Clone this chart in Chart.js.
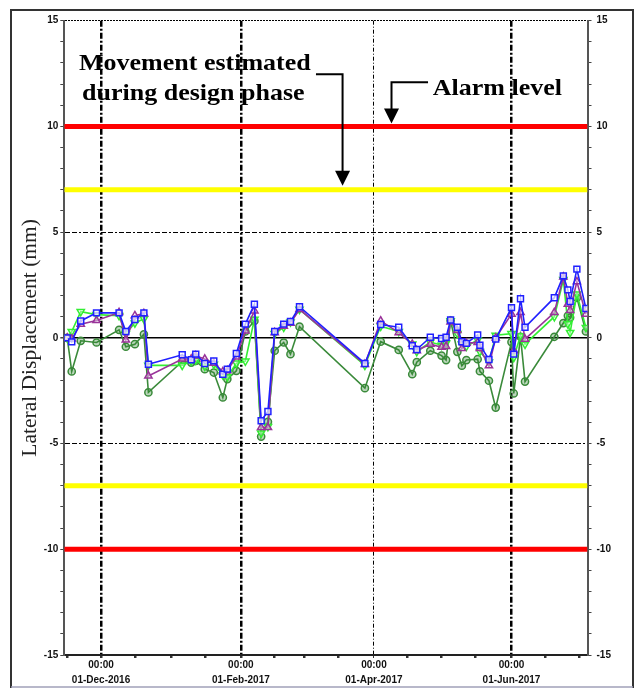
<!DOCTYPE html>
<html>
<head>
<meta charset="utf-8">
<title>Lateral Displacement</title>
<script src="https://cdn.jsdelivr.net/npm/chart.js@4.4.1/dist/chart.umd.min.js"></script>
<style>
  html, body { margin: 0; padding: 0; background: #fff; }
  #wrap { position: relative; width: 640px; height: 688px; }
</style>
</head>
<body>
<div id="wrap"><canvas id="dispChart" width="640" height="688"></canvas></div>
<script>
// Reading dates (one reading per date for every depth)
const readingDates = [
    '2016-11-16', '2016-11-18', '2016-11-22', '2016-11-29', '2016-12-09', '2016-12-12',
    '2016-12-16', '2016-12-20', '2016-12-22', '2017-01-06', '2017-01-10', '2017-01-12',
    '2017-01-16', '2017-01-20', '2017-01-24', '2017-01-26', '2017-01-30', '2017-02-03',
    '2017-02-07', '2017-02-10', '2017-02-13', '2017-02-16', '2017-02-20', '2017-02-23',
    '2017-02-27', '2017-03-28', '2017-04-04', '2017-04-12', '2017-04-18', '2017-04-20',
    '2017-04-26', '2017-05-01', '2017-05-03', '2017-05-05', '2017-05-08', '2017-05-10',
    '2017-05-12', '2017-05-17', '2017-05-18', '2017-05-22', '2017-05-25', '2017-06-01',
    '2017-06-02', '2017-06-05', '2017-06-07', '2017-06-20', '2017-06-24', '2017-06-26',
    '2017-06-27', '2017-06-30', '2017-07-04'
];

// Displacement (mm), blue squares
const blueSquare = [
    0, -0.19, 0.8, 1.18, 1.18, 0.3,
    0.87, 1.18, -1.25, -0.8, -1.04, -0.77,
    -1.21, -1.09, -1.72, -1.48, -0.74, 0.65,
    1.59, -3.92, -3.48, 0.3, 0.65, 0.77,
    1.47, -1.21, 0.63, 0.5, -0.37, -0.55,
    0.03, -0.03, 0.03, 0.84, 0.5, -0.18,
    -0.26, 0.14, -0.35, -1.02, -0.06, 1.43,
    -0.77, 1.85, 0.5, 1.9, 2.93, 2.27,
    1.72, 3.25, 1.39
];

// Displacement (mm), purple triangles
const purpleTriangle = [
    0, -0.05, 0.65, 0.82, 1.2, -0.1,
    1.05, 1.15, -1.8, -1.0, -1.0, -0.85,
    -1.0, -1.2, -1.6, -1.55, -0.9, 0.33,
    1.28, -4.24, -4.24, 0.25, 0.55, 0.7,
    1.35, -1.25, 0.8, 0.25, -0.3, -0.6,
    -0.3, -0.44, -0.4, 0.76, 0.35, -0.5,
    -0.25, -0.22, -0.5, -1.32, 0, 1.12,
    -0.6, 1.2, -0.06, 1.2, 2.88, 1.59,
    1.3, 2.66, 1.12
];

// Displacement (mm), light green inverted triangles
const limeTriangle = [
    0, 0.3, 1.24, 1.1, 1.05, 0.2,
    0.7, 0.9, -1.3, -1.3, -1.1, -1.05,
    -1.35, -1.25, -1.75, -1.85, -1.2, -1.1,
    0.88, -4.5, -4.2, 0.2, 0.5, 0.75,
    1.35, -1.3, 0.55, 0.3, -0.3, -0.65,
    -0.2, -0.35, -0.25, 0.8, 0.2, -0.3,
    -0.4, -0.1, -0.65, -1.15, 0.12, 0.2,
    -0.93, 0.1, -0.3, 1.0, 2.75, 0.66,
    0.25, 2.07, 0.49
];

// Displacement (mm), dark green circles
const greenCircle = [
    0, -1.59, -0.14, -0.22, 0.38, -0.42,
    -0.3, 0.17, -2.58, -1.12, -1.17, -1.09,
    -1.48, -1.64, -2.82, -1.95, -1.56, 0.3,
    0.8, -4.67, -3.97, -0.61, -0.22, -0.77,
    0.53, -2.38, -0.18, -0.57, -1.72, -1.15,
    -0.61, -0.84, -1.05, 0.82, -0.66, -1.32,
    -1.05, -1.01, -1.58, -2.03, -3.3, -0.2,
    -2.63, 0.05, -2.07, 0.05, 0.7, 1.04,
    0.96, 1.9, 0.3
];

// Threshold levels (mm)
const alarmLevel = 10;
const designLevel = 7;

// Axis labels
const majorTickDates = ['2016-12-01', '2017-02-01', '2017-04-01', '2017-06-01'];
const majorTickLabels = [
    ['00:00', '01-Dec-2016'],
    ['00:00', '01-Feb-2017'],
    ['00:00', '01-Apr-2017'],
    ['00:00', '01-Jun-2017']
];
const axisStart = '2016-11-14T17:00:00Z';
const axisEnd = '2017-07-04T17:00:00Z';
const yMin = -15, yMax = 15;

// Days since 01-Dec-2016
const origin = Date.parse('2016-12-01T00:00:00Z');
function toDay(s) {
    const full = s.length === 10 ? s + 'T00:00:00Z' : s;
    return (Date.parse(full) - origin) / 86400000;
}

const xMin = toDay(axisStart);
const xMax = toDay(axisEnd);
const majorDays = majorTickDates.map(toDay);
const thinDay = toDay('2017-04-01');

// minor ticks on the 1st and 16th of each month
const tickDays = [];
for (let m = 10; m <= 18; m++) {
    [1, 16].forEach(d => {
        const v = (Date.UTC(2016, m, d) - origin) / 86400000;
        if (v >= xMin && v <= xMax) tickDays.push(v);
    });
}

function toPoints(values) {
    return readingDates.map((d, i) => ({ x: toDay(d), y: values[i] }));
}

function levelLine(value, color) {
    return {
        label: 'level ' + value,
        data: [{ x: xMin, y: value }, { x: xMax, y: value }],
        borderColor: color,
        borderWidth: 5,
        pointRadius: 0,
        order: 10
    };
}

function series(label, values, color, fill, style, extra) {
    return Object.assign({
        label: label,
        data: toPoints(values),
        borderColor: color,
        borderWidth: 1.6,
        pointStyle: style,
        pointRadius: 4.2,
        pointBorderWidth: 1.5,
        pointBorderColor: color,
        pointBackgroundColor: fill,
        tension: 0
    }, extra);
}

const tickFont = { family: 'Liberation Sans', size: 10, weight: 'bold', lineHeight: 1.5 };

function drawArrow(ctx, pts) {
    ctx.save();
    ctx.strokeStyle = '#000';
    ctx.fillStyle = '#000';
    ctx.lineWidth = 2;
    ctx.beginPath();
    ctx.moveTo(pts[0].x, pts[0].y);
    for (let i = 1; i < pts.length; i++) ctx.lineTo(pts[i].x, pts[i].y - (i === pts.length - 1 ? 10 : 0));
    ctx.stroke();
    const tip = pts[pts.length - 1];
    ctx.beginPath();
    ctx.moveTo(tip.x, tip.y);
    ctx.lineTo(tip.x - 7.5, tip.y - 15);
    ctx.lineTo(tip.x + 7.5, tip.y - 15);
    ctx.closePath();
    ctx.fill();
    ctx.restore();
}

function drawLabel(ctx, text, x, y, sx) {
    ctx.save();
    ctx.font = 'bold 23px "Liberation Serif"';
    ctx.fillStyle = '#000';
    ctx.textBaseline = 'alphabetic';
    ctx.translate(x, y);
    ctx.scale(sx, 1);
    ctx.fillText(text, 0, 0);
    ctx.restore();
}

const decorPlugin = {
    id: 'decor',
    beforeDraw(chart) {
        const ctx = chart.ctx;
        ctx.save();
        ctx.strokeStyle = '#333';
        ctx.lineWidth = 2;
        ctx.beginPath();
        ctx.moveTo(11, 688);
        ctx.lineTo(11, 10);
        ctx.lineTo(633, 10);
        ctx.lineTo(633, 688);
        ctx.stroke();
        ctx.strokeStyle = '#a0a0b8';
        ctx.lineWidth = 1.5;
        ctx.beginPath();
        ctx.moveTo(11, 687);
        ctx.lineTo(633, 687);
        ctx.stroke();
        ctx.restore();
    },
    afterDatasetsDraw(chart) {
        const ctx = chart.ctx;
        const x = chart.scales.x, y = chart.scales.y;
        // design phase bracket
        drawArrow(ctx, [
            { x: x.getPixelForValue(95.3), y: y.getPixelForValue(12.47) },
            { x: x.getPixelForValue(107.1), y: y.getPixelForValue(12.47) },
            { x: x.getPixelForValue(107.1), y: y.getPixelForValue(designLevel) - 4 }
        ]);
        // alarm bracket
        drawArrow(ctx, [
            { x: x.getPixelForValue(145.0), y: y.getPixelForValue(12.09) },
            { x: x.getPixelForValue(128.8), y: y.getPixelForValue(12.09) },
            { x: x.getPixelForValue(128.8), y: y.getPixelForValue(alarmLevel) - 3 }
        ]);
        drawLabel(ctx, 'Movement estimated', x.getPixelForValue(-9.75), y.getPixelForValue(12.67), 1.13);
        drawLabel(ctx, 'during design phase', x.getPixelForValue(-8.4), y.getPixelForValue(11.25), 1.13);
        drawLabel(ctx, 'Alarm level', x.getPixelForValue(147.1), y.getPixelForValue(11.49), 1.13);
    }
};

const ctx = document.getElementById('dispChart').getContext('2d');
const dispChart = new Chart(ctx, {
    type: 'line',
    data: {
        datasets: [
            series('Blue', blueSquare, '#2020ff', 'rgba(255,255,255,0.7)', 'rect'),
            series('Purple', purpleTriangle, '#993399', 'rgba(255,255,255,0.4)', 'triangle'),
            series('Lime', limeTriangle, '#33ee33', 'rgba(255,255,255,0.4)', 'triangle', { pointRotation: 180 }),
            series('Green', greenCircle, '#3a8a3a', 'rgba(58,138,58,0.35)', 'circle', { pointRadius: 3.6 }),
            levelLine(alarmLevel, '#ff0000'),
            levelLine(designLevel, '#ffff00'),
            levelLine(-designLevel, '#ffff00'),
            levelLine(-alarmLevel, '#ff0000')
        ]
    },
    options: {
        responsive: false,
        animation: false,
        devicePixelRatio: 1,
        layout: { padding: { left: 12, right: 0, top: 20.7, bottom: 0 } },
        plugins: {
            legend: { display: false },
            tooltip: { enabled: false }
        },
        scales: {
            x: {
                type: 'linear',
                min: xMin,
                max: xMax,
                afterBuildTicks: (scale) => {
                    scale.ticks = tickDays.map(v => ({ value: v }));
                },
                afterFit: (scale) => { scale.height = 33; },
                ticks: {
                    autoSkip: false,
                    maxRotation: 0,
                    padding: 0,
                    color: '#111',
                    font: tickFont,
                    callback: (v) => {
                        const i = majorDays.indexOf(v);
                        return i >= 0 ? majorTickLabels[i] : '';
                    }
                },
                grid: {
                    color: (c) => majorDays.includes(c.tick.value) ? '#000' : 'rgba(0,0,0,0)',
                    lineWidth: (c) => c.tick.value === thinDay ? 1 : 2.5,
                    tickColor: '#333',
                    tickLength: 3
                },
                border: {
                    color: '#222',
                    width: 2,
                    dash: (c) => c.tick ? (c.tick.value === thinDay ? [4, 2, 1, 2] : [6, 2, 2, 2]) : []
                }
            },
            y: {
                type: 'linear',
                position: 'left',
                min: yMin,
                max: yMax,
                afterFit: (scale) => { scale.width = 52.3; },
                title: {
                    display: true,
                    text: 'Lateral Displacement (mm)',
                    color: '#222',
                    font: { family: 'Liberation Serif', size: 21.5 },
                    padding: { top: 5, bottom: 0 }
                },
                ticks: {
                    stepSize: 1,
                    autoSkip: false,
                    padding: 2,
                    color: '#111',
                    font: tickFont,
                    callback: (v) => v % 5 === 0 ? String(v) : ''
                },
                grid: {
                    color: (c) => (c.tick.value % 5 === 0 && c.tick.value !== yMin) ? '#000' : 'rgba(0,0,0,0)',
                    lineWidth: (c) => c.tick.value === 0 ? 1.5 : 1,
                    tickColor: '#444',
                    tickLength: 4
                },
                border: {
                    color: '#555',
                    width: 2,
                    dash: (c) => {
                        if (!c.tick || c.tick.value === 0) return [];
                        return c.tick.value === yMax ? [2, 1] : [5, 2, 5, 2, 2, 2];
                    }
                }
            },
            y2: {
                type: 'linear',
                position: 'right',
                min: yMin,
                max: yMax,
                afterFit: (scale) => { scale.width = 52.5; },
                ticks: {
                    stepSize: 1,
                    autoSkip: false,
                    padding: 5,
                    color: '#111',
                    font: tickFont,
                    callback: (v) => v % 5 === 0 ? String(v) : ''
                },
                grid: {
                    drawOnChartArea: false,
                    tickColor: '#444',
                    tickLength: 4
                },
                border: { color: '#555', width: 2 }
            }
        }
    },
    plugins: [decorPlugin]
});
</script>
</body>
</html>
